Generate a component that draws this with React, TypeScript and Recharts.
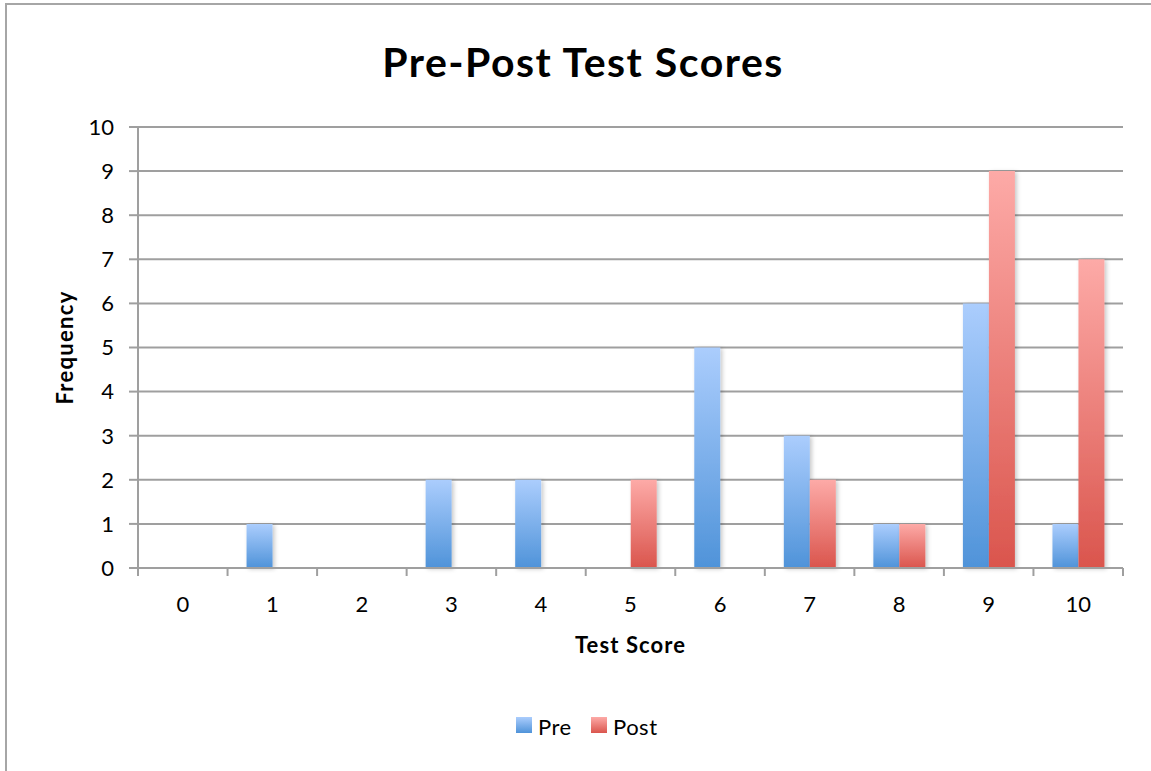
import { BarChart, Bar, XAxis, YAxis, CartesianGrid } from "recharts"

const scores = ["0", "1", "2", "3", "4", "5", "6", "7", "8", "9", "10"]
const preCounts = [0, 1, 0, 2, 2, 0, 5, 3, 1, 6, 1]
const postCounts = [0, 0, 0, 0, 0, 2, 0, 2, 1, 9, 7]
const freqTicks = [0, 1, 2, 3, 4, 5, 6, 7, 8, 9, 10]

const data = scores.map((s, i) => ({ score: s, pre: preCounts[i], post: postCounts[i] }))

const FONT = "Lato, 'Open Sans', sans-serif"
const GRID = "#9f9f9f"
const TICK_SIZE = 8
const TICK_MARGIN = 20

// category labels in the middle, tick marks on the category boundaries
function ScoreTick(props: any) {
  const { x, y, payload, index, visibleTicksCount } = props
  const half = payload?.offset ?? 0
  const axisY = y - TICK_SIZE - TICK_MARGIN
  const last = index === visibleTicksCount - 1
  return (
    <g>
      <line x1={x - half} x2={x - half} y1={axisY} y2={axisY + TICK_SIZE} stroke={GRID} strokeWidth={2} />
      {last && <line x1={x + half} x2={x + half} y1={axisY} y2={axisY + TICK_SIZE} stroke={GRID} strokeWidth={2} />}
      <text x={x} y={y} dy="0.71em" textAnchor="middle" fontSize={22} fontFamily={FONT} fill="#000">
        {payload.value}
      </text>
    </g>
  )
}

export default function App() {
  return (
    <div style={{ position: "absolute", left: 0, top: 0, width: 1151, height: 771, overflow: "hidden", background: "#fff", fontFamily: FONT }}>
      {/* chart frame, only left and top edges show in the crop */}
      <div style={{ position: "absolute", left: 5, top: 3, width: 1146, height: 768, borderLeft: "2px solid #a6a6a6", borderTop: "2px solid #a6a6a6" }} />

      <div style={{ position: "absolute", left: 0, top: 0 }}>
        <BarChart
          width={1151}
          height={771}
          data={data}
          margin={{ top: 127, right: 28, bottom: 143, left: 0 }}
          barGap={0}
          barSize={26}
        >
          <defs>
            <linearGradient id="preFill" x1="0" y1="0" x2="0" y2="1">
              <stop offset="0%" stopColor="#abcdfd" />
              <stop offset="100%" stopColor="#4f93d9" />
            </linearGradient>
            <linearGradient id="postFill" x1="0" y1="0" x2="0" y2="1">
              <stop offset="0%" stopColor="#fdaaa7" />
              <stop offset="100%" stopColor="#da554d" />
            </linearGradient>
            <filter id="barShadow" x="-30%" y="-10%" width="160%" height="120%">
              <feDropShadow dx="2" dy="1" stdDeviation="2" floodColor="#000" floodOpacity="0.22" />
            </filter>
          </defs>
          <CartesianGrid vertical={false} stroke={GRID} strokeWidth={2} />
          <XAxis
            dataKey="score"
            axisLine={{ stroke: GRID, strokeWidth: 2 }}
            tickLine={false}
            tickSize={TICK_SIZE}
            tickMargin={TICK_MARGIN}
            height={60}
            interval={0}
            tick={<ScoreTick />}
            label={{
              content: (props: any) => {
                const vb = props.viewBox
                return (
                  <text x={vb.x + vb.width / 2} y={vb.y + 85} textAnchor="middle" fontSize={22} fontWeight="bold" fontFamily={FONT} letterSpacing={1.1} fill="#000">
                    Test Score
                  </text>
                )
              },
            }}
          />
          <YAxis
            domain={[0, 10]}
            ticks={freqTicks}
            width={138}
            axisLine={{ stroke: GRID, strokeWidth: 2 }}
            tickLine={{ stroke: GRID, strokeWidth: 2 }}
            tickSize={9}
            tickMargin={15}
            tick={{ fill: "#000", fontSize: 22, fontFamily: FONT }}
            label={{
              content: (props: any) => {
                const vb = props.viewBox
                const cx = 73
                const cy = vb.y + vb.height / 2
                return (
                  <text x={cx} y={cy} transform={`rotate(-90, ${cx}, ${cy})`} textAnchor="middle" fontSize={22} fontWeight="bold" fontFamily={FONT} letterSpacing={1.3} fill="#000">
                    Frequency
                  </text>
                )
              },
            }}
          />
          <Bar dataKey="pre" fill="url(#preFill)" filter="url(#barShadow)" isAnimationActive={false} />
          <Bar dataKey="post" fill="url(#postFill)" filter="url(#barShadow)" isAnimationActive={false} />
        </BarChart>
      </div>

      <svg width={1151} height={771} style={{ position: "absolute", left: 0, top: 0, pointerEvents: "none" }}>
        <defs>
          <linearGradient id="preKey" x1="0" y1="0" x2="0" y2="1">
            <stop offset="0%" stopColor="#abcdfd" />
            <stop offset="100%" stopColor="#4f93d9" />
          </linearGradient>
          <linearGradient id="postKey" x1="0" y1="0" x2="0" y2="1">
            <stop offset="0%" stopColor="#fdaaa7" />
            <stop offset="100%" stopColor="#da554d" />
          </linearGradient>
        </defs>
        <text x={583} y={77} textAnchor="middle" fontSize={41} fontWeight="bold" fontFamily={FONT} letterSpacing={1.5} fill="#000">
          Pre-Post Test Scores
        </text>
        <rect x={516} y={717} width={16} height={16} fill="url(#preKey)" />
        <text x={538} y={735} fontSize={22} fontFamily={FONT} letterSpacing={0.5} fill="#000">Pre</text>
        <rect x={591} y={717} width={16} height={16} fill="url(#postKey)" />
        <text x={613} y={735} fontSize={22} fontFamily={FONT} letterSpacing={0.5} fill="#000">Post</text>
      </svg>
    </div>
  )
}
